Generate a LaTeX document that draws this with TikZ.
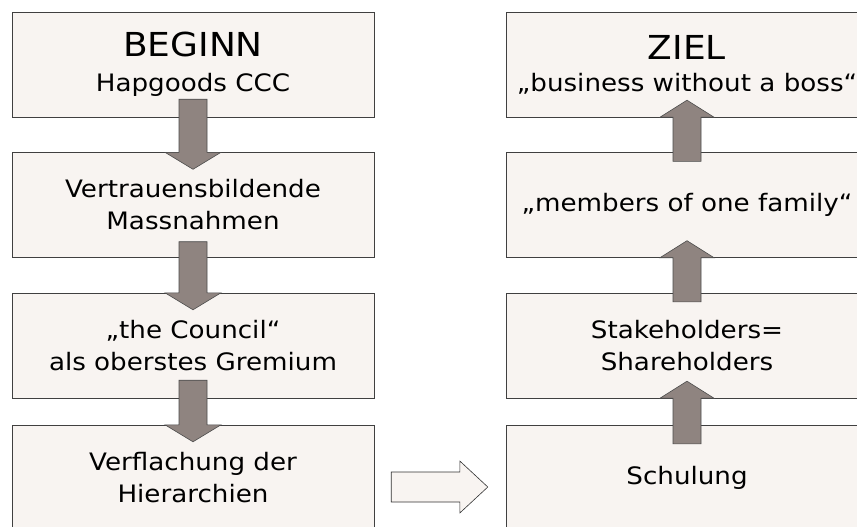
\documentclass[tikz,border=0pt]{standalone}
\usepackage{fontspec}
\setmainfont{DejaVu Sans}[FakeStretch=1.09]
\usetikzlibrary{calc}

\definecolor{boxfill}{RGB}{248,244,241}
\definecolor{arrowfill}{RGB}{143,132,128}
\newcommand{\titlefont}{\fontsize{33}{36}\selectfont}

\begin{document}
\begin{tikzpicture}[x=1pt, y=-1pt,
    stepbox/.style={draw=black!75, fill=boxfill, minimum width=362pt, minimum height=105pt,
      inner sep=0pt, align=center, font=\fontsize{24}{32}\selectfont},
    blockarrow/.style={fill=arrowfill, draw=black!70, line width=0.6pt},
    hollowarrow/.style={fill=boxfill, draw=black!80, line width=0.6pt}]
  \fill[white] (0,0) rectangle (857,527);
  \useasboundingbox (0,0) rectangle (857,527);
  \clip (0,0) rectangle (857,527);
  % left column: the way there
  \foreach \n/\y/\txt in {l1/64.5/{{\titlefont BEGINN}\\[3pt]Hapgoods CCC},
                          l2/205/{Vertrauensbildende\\Massnahmen},
                          l3/345.5/{„the Council“\\als oberstes Gremium},
                          l4/477.5/{Verflachung der\\Hierarchien}} {
    \node[stepbox] (\n) at (193,\y) {\txt};
  }
  % right column: the goal
  \foreach \n/\y/\txt in {r1/64.5/{{\titlefont ZIEL}\\„business without a boss“},
                          r2/205/{„members of one family“},
                          r3/345.5/{Stakeholders=\\Shareholders},
                          r4/477.5/{Schulung}} {
    \node[stepbox] (\n) at (687,\y) {\txt};
  }
  % arrows down
  \foreach \a/\b/\s in {l1/l2/18, l2/l3/16, l3/l4/18} {
    \draw[blockarrow, xshift=-2] ($(\a.south)+(-14,-\s)$) -- ($(\a.south)+(14,-\s)$)
      -- ($(\b.north)+(14,0)$) -- ($(\b.north)+(28,0)$) -- ($(\b.north)+(0,17)$)
      -- ($(\b.north)+(-28,0)$) -- ($(\b.north)+(-14,0)$) -- cycle;
  }
  % arrows up
  \foreach \a/\b/\s in {r1/r2/9, r2/r3/9, r3/r4/19} {
    \draw[blockarrow, xshift=5] ($(\b.north)+(-14,\s)$) -- ($(\b.north)+(14,\s)$)
      -- ($(\a.south)+(14,0)$) -- ($(\a.south)+(27,0)$) -- ($(\a.south)+(0,-17)$)
      -- ($(\a.south)+(-27,0)$) -- ($(\a.south)+(-14,0)$) -- cycle;
  }
  % across
  \coordinate (hs) at ($(l4.east)+(17,9.5)$);
  \coordinate (ht) at ($(r4.west)+(-18,9.5)$);
  \draw[hollowarrow] ($(hs)+(0,-15)$) -- ($(ht)+(-28,-15)$) -- ($(ht)+(-28,-26)$) -- (ht)
    -- ($(ht)+(-28,26)$) -- ($(ht)+(-28,15)$) -- ($(hs)+(0,15)$) -- cycle;
\end{tikzpicture}
\end{document}
